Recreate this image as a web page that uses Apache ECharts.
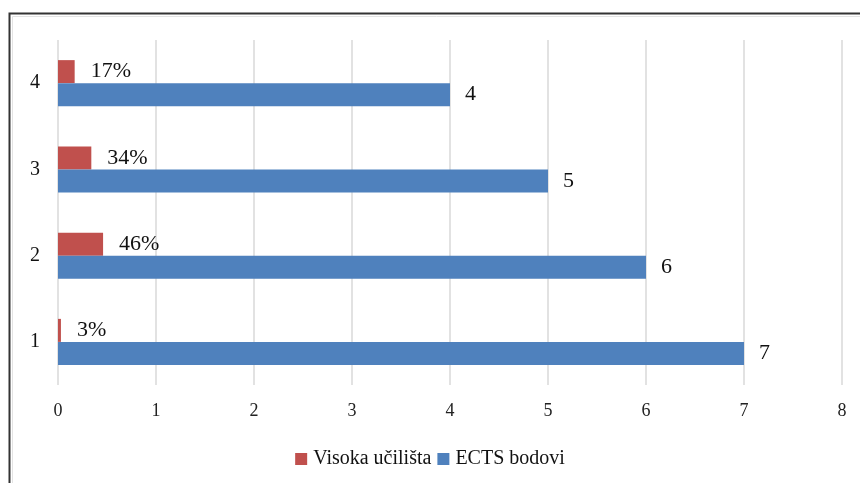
<!DOCTYPE html>
<html>
<head>
<meta charset="utf-8">
<script src="https://cdn.jsdelivr.net/npm/echarts@6/dist/echarts.min.js"></script>
<style>
  html, body { margin: 0; padding: 0; background: #fff; }
  #chart { width: 860px; height: 483px; }
</style>
</head>
<body>
<div id="chart"></div>
<script>
const categories = ['1', '2', '3', '4'];
const visokaUcilista = [0.03, 0.46, 0.34, 0.17];
const ectsBodovi = [7, 6, 5, 4];
const xTicks = { min: 0, max: 8, interval: 1 };

const serif = '"Liberation Serif", "Times New Roman", serif';
const red = '#C0504D';
const blue = '#4F81BD';

const myChart = echarts.init(document.getElementById('chart'));

const option = {
    animation: false,
    textStyle: { fontFamily: serif },
    graphic: [
        {
            type: 'rect',
            shape: { x: 9.5, y: 13.5, width: 900, height: 520 },
            style: { fill: 'none', stroke: '#333', lineWidth: 2 }
        },
        {
            type: 'rect',
            shape: { x: 12.5, y: 16.5, width: 900, height: 520 },
            style: { fill: 'none', stroke: '#e3e3e3', lineWidth: 1 }
        }
    ],
    legend: {
        data: ['Visoka učilišta', 'ECTS bodovi'],
        bottom: 9,
        left: 'center',
        itemWidth: 12,
        itemHeight: 12,
        itemGap: 6,
        icon: 'rect',
        textStyle: { fontFamily: serif, fontSize: 20, color: '#111', padding: [0, 0, 0, 1] }
    },
    grid: { left: 58, right: 18, top: 40, bottom: 98 },
    xAxis: {
        type: 'value',
        min: xTicks.min,
        max: xTicks.max,
        interval: xTicks.interval,
        axisLine: { show: false },
        axisTick: { show: false },
        axisLabel: { fontFamily: serif, fontSize: 18, color: '#222', margin: 17 },
        splitLine: { lineStyle: { color: '#d9d9d9', width: 1.5 } }
    },
    yAxis: {
        type: 'category',
        data: categories,
        axisLine: { show: false },
        axisTick: { show: false },
        axisLabel: { fontFamily: serif, fontSize: 20, color: '#111', margin: 18 }
    },
    series: [
        {
            name: 'Visoka učilišta',
            type: 'bar',
            data: visokaUcilista,
            barWidth: 23,
            barGap: '0%',
            itemStyle: { color: red },
            label: {
                show: true,
                position: 'right',
                distance: 16,
                fontFamily: serif,
                fontSize: 22,
                color: '#111',
                formatter: p => Math.round(p.value * 100) + '%'
            }
        },
        {
            name: 'ECTS bodovi',
            type: 'bar',
            data: ectsBodovi,
            barWidth: 23,
            barGap: '0%',
            itemStyle: { color: blue },
            label: {
                show: true,
                position: 'right',
                distance: 15,
                fontFamily: serif,
                fontSize: 22,
                color: '#111'
            }
        }
    ]
};

myChart.setOption(option);
</script>
</body>
</html>
